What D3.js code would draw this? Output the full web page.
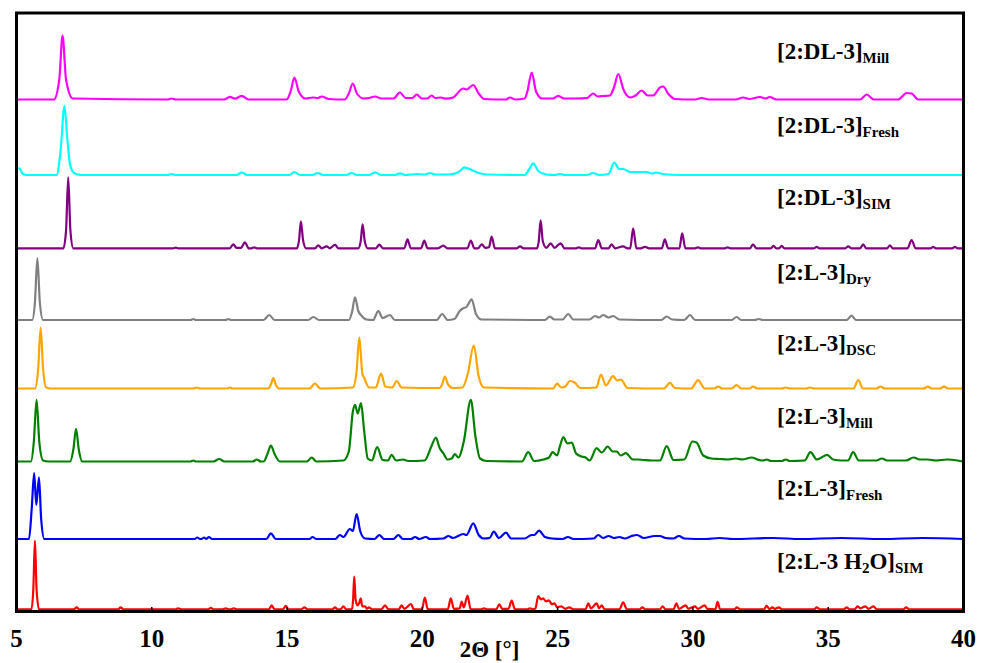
<!DOCTYPE html>
<html><head><meta charset="utf-8">
<script src="https://cdn.jsdelivr.net/npm/d3@7"></script>
<style>
html,body{margin:0;padding:0;background:#fff;}
svg{display:block;}
text{font-family:"Liberation Serif","Times New Roman",serif;font-weight:bold;fill:#000;}
</style></head>
<body><svg id="c" width="981" height="663"></svg>
<script>
// ---- data (2Θ, intensity above each trace's baseline) ----
const millDL = [[5,0],[6.4,0],[6.6,20],[6.72,64],[6.85,20],[7.1,1],[10.6,0],[10.75,1],[10.9,0],[12.7,0],[12.9,2.7],[13.1,0.8],[13.34,3.7],[13.6,0],[15.0,0],[15.15,8],[15.29,22],[15.45,8],[15.7,1],[15.98,2],[16.15,1.5],[16.3,3],[16.55,0.5],[17.15,0],[17.3,6],[17.45,16],[17.6,6],[17.85,1],[18.05,1.5],[18.27,3],[18.5,1],[18.95,1],[19.19,7],[19.4,1.5],[19.65,1.5],[19.81,5],[20.0,1],[20.2,1],[20.36,4],[20.5,1.5],[20.7,2],[20.9,0.8],[21.15,2],[21.53,11],[21.65,10],[21.9,14.5],[22.1,6],[22.3,0.5],[23.1,0],[23.26,2],[23.45,0],[23.8,1],[23.9,8],[24.06,27],[24.22,8],[24.45,1],[24.85,1],[25.04,3.7],[25.25,1],[25.7,1],[26.1,1.5],[26.33,6],[26.5,3],[26.7,3.5],[26.95,4],[27.1,12],[27.26,25.5],[27.45,10],[27.7,2],[27.9,4],[28.12,9],[28.35,4],[28.55,4],[28.8,12],[28.92,13],[29.1,6],[29.35,0.5],[30.1,0],[30.34,1.5],[30.6,0],[31.6,0],[31.87,2],[32.1,0.5],[32.5,2.5],[32.7,1],[32.86,2.5],[33.1,0],[36.2,0],[36.44,5],[36.7,0],[37.6,0],[37.92,6.5],[38.1,6],[38.35,0],[40,0]];
const freshDL = [[5.08,7],[5.15,6],[5.25,1],[5.4,0],[6.5,0],[6.65,25],[6.79,69],[6.9,35],[7.0,10],[7.15,2],[7.4,0],[10.6,0],[10.75,1],[10.9,0],[13.15,0],[13.34,2.5],[13.55,0],[15.1,0],[15.29,3],[15.5,0],[15.95,0],[16.15,2],[16.35,0],[17.2,0],[17.4,2],[17.6,0],[18.05,0],[18.27,2.7],[18.5,0],[19.0,0],[19.19,1.7],[19.4,0],[19.8,1],[20.1,0.5],[20.3,2],[20.5,0.5],[21.0,0.5],[21.28,2],[21.45,5],[21.56,7.7],[21.84,5],[22.1,2],[22.4,0.5],[23.8,0],[23.95,5],[24.12,11.7],[24.3,4],[24.6,0.5],[24.9,0],[25.1,1],[25.3,0],[26.1,0],[26.33,2],[26.55,0],[26.9,1],[27.11,12.3],[27.3,6],[27.44,6],[27.7,3],[28.0,3],[28.3,3],[28.5,1.5],[28.67,2.5],[28.9,1],[29.5,0],[40,0]];
const simDL = [[5,0],[6.75,0],[6.85,18],[6.93,71],[7.01,18],[7.12,0],[10.8,0],[10.9,0.7],[11.0,0],[12.9,0],[13.03,4],[13.15,0.5],[13.32,0.5],[13.46,6],[13.6,0],[13.7,0],[13.8,1],[13.9,0],[15.38,0],[15.46,8],[15.53,27],[15.61,8],[15.72,0],[16.05,0],[16.17,3],[16.3,0],[16.48,2],[16.6,0],[16.79,3.5],[16.92,0],[17.65,0],[17.74,7],[17.81,24],[17.89,7],[18.0,0],[18.3,0],[18.43,3.7],[18.56,0],[19.35,0],[19.47,9],[19.59,0],[19.97,0],[20.09,7.7],[20.21,0],[20.6,0],[20.79,2.7],[20.95,0],[21.68,0],[21.81,7.7],[21.94,0],[22.08,0],[22.21,4],[22.35,0.5],[22.48,1],[22.58,11.7],[22.7,0],[23.5,0],[23.63,2],[23.76,0],[24.25,0],[24.32,7],[24.39,28],[24.47,7],[24.6,0.5],[24.76,5],[24.9,0.5],[25.13,5],[25.27,0],[25.7,0],[25.8,1],[25.9,0],[26.4,0],[26.52,8.3],[26.65,0],[26.9,0],[27.01,4],[27.15,0],[27.44,2],[27.6,0],[27.7,0],[27.81,20],[27.93,0],[28.1,0],[28.24,1.5],[28.4,0],[28.87,0],[28.98,9],[29.1,0],[29.52,0],[29.62,15],[29.74,0],[30.1,0],[30.2,1],[30.3,0],[31.2,0],[31.3,1],[31.4,0],[32.13,0],[32.24,4],[32.36,0],[32.9,0],[32.99,2.5],[33.1,0],[33.2,0],[33.3,2.5],[33.4,0],[34.5,0],[34.59,1.5],[34.7,0],[35.65,0],[35.76,2],[35.87,0],[36.2,0],[36.31,4],[36.42,0],[37.2,0],[37.3,3],[37.4,0],[37.95,0],[38.1,8.3],[38.25,0],[38.8,0],[38.9,1.5],[39.0,0],[39.6,0],[39.7,1.5],[39.8,0],[40,0]];
const dryL = [[5,0],[5.6,0],[5.7,18],[5.79,62],[5.88,18],[6.0,0],[11.45,0],[11.55,1],[11.65,0],[12.75,0],[12.85,1],[12.95,0],[14.15,0],[14.36,5],[14.55,0],[15.8,0],[15.99,3],[16.2,0],[17.3,0],[17.42,8],[17.53,22.7],[17.65,9],[17.75,5],[17.95,0.5],[18.2,0],[18.39,9],[18.55,2],[18.82,5],[19.0,0],[20.55,0],[20.75,6],[20.95,0],[21.2,1],[21.4,9],[21.53,11.7],[21.65,13],[21.84,20.7],[22.0,6],[22.2,0.5],[24.55,0],[24.73,3.3],[24.9,0.5],[25.2,0.5],[25.41,6],[25.6,0.5],[26.2,0.5],[26.4,4],[26.55,2.5],[26.7,5],[26.9,2.5],[27.07,4],[27.3,0.5],[28.85,0],[29.05,3.5],[29.25,0.5],[29.7,0],[29.91,5],[30.1,0],[31.45,0],[31.63,3],[31.8,0],[32.3,0],[32.45,1],[32.6,0],[35.7,0],[35.88,4.3],[36.05,0],[40,0]];
const dscL = [[5,0],[5.7,0],[5.82,20],[5.91,61],[6.0,20],[6.12,1],[6.3,0],[11.55,0],[11.68,1],[11.8,0],[12.8,0],[12.9,1],[13.0,0],[14.33,0],[14.42,4],[14.51,10.3],[14.6,4],[14.72,0],[15.85,0],[16.05,5],[16.25,0],[17.45,1],[17.58,15],[17.69,51],[17.8,15],[17.88,10],[18.05,1],[18.3,1],[18.49,15],[18.65,2],[18.9,1],[19.07,7.5],[19.25,1],[20.65,0.5],[20.75,4],[20.85,12],[20.97,4],[21.15,0.5],[21.5,1],[21.7,15],[21.92,43],[22.1,12],[22.3,1],[24.85,0],[25.0,5],[25.15,1],[25.3,2],[25.47,7.5],[25.65,6],[25.85,0.5],[26.45,1],[26.62,14],[26.8,3],[27.07,12.3],[27.22,8],[27.36,9],[27.6,0.5],[28.95,0],[29.17,5.7],[29.35,0.5],[29.95,0],[30.21,8.3],[30.45,0],[30.8,0],[30.95,2],[31.1,0],[31.45,0],[31.63,3.3],[31.8,0],[32.1,0],[32.24,2],[32.4,0],[33.3,0],[33.45,1],[33.6,0],[34.2,0],[34.35,1],[34.5,0],[35.95,0],[36.13,8.3],[36.3,0],[36.8,0],[36.95,2],[37.1,0],[38.55,0],[38.7,2],[38.85,0],[39.15,0],[39.3,2],[39.45,0],[40,0]];
const millL = [[5,0],[5.55,0],[5.66,20],[5.76,61.7],[5.86,20],[6.0,1],[6.2,0],[7.0,0],[7.12,12],[7.22,32.7],[7.32,12],[7.45,0],[11.45,0],[11.55,1],[11.65,0],[12.3,0],[12.51,2.5],[12.7,0],[13.75,0],[13.9,2],[14.05,0],[14.15,0],[14.3,8],[14.42,16],[14.55,8],[14.75,0],[15.75,0],[15.93,4],[16.1,0],[17.1,1],[17.3,10],[17.45,50],[17.53,56.7],[17.63,48],[17.75,58.3],[17.87,30],[18.0,3],[18.15,1],[18.35,14.3],[18.55,1.5],[18.75,1],[18.88,6.7],[19.05,1],[19.3,2],[19.5,0.5],[20.1,1],[20.35,15],[20.52,24],[20.65,14],[20.8,8],[20.95,2],[21.1,3],[21.22,7.3],[21.35,4],[21.55,20],[21.81,61.7],[21.98,25],[22.15,3],[22.4,0.5],[23.7,0],[23.93,9.3],[24.15,0.5],[24.5,2],[24.7,4],[24.83,9.3],[25.0,6],[25.1,15],[25.23,24.3],[25.38,18],[25.54,19],[25.7,8],[25.9,5],[26.05,4],[26.2,1],[26.46,13.3],[26.65,9],[26.87,15],[27.05,10],[27.2,10],[27.35,6],[27.54,8.3],[27.8,2],[28.0,2],[28.2,1.5],[28.5,1],[28.8,1],[29.05,15.3],[29.3,1.5],[29.7,2],[30.0,20],[30.15,19],[30.4,6],[30.7,3],[31.0,2.5],[31.3,2],[31.6,3],[31.85,2],[32.19,4],[32.4,2],[32.6,1],[32.75,2],[32.9,0.5],[33.3,0.5],[33.45,2],[33.6,0.5],[34.15,1],[34.36,9.3],[34.6,2],[34.98,6.7],[35.2,2],[35.5,1],[35.75,1],[35.94,9.3],[36.15,1],[36.8,1],[37.0,3],[37.2,1],[37.9,1],[38.17,4],[38.4,2],[38.7,2],[39.0,1],[39.4,2],[39.8,1],[40,0]];
const freshL = [[5,0],[5.48,0],[5.58,30],[5.67,66],[5.75,34],[5.85,61.7],[5.93,20],[6.05,0],[11.6,0],[11.7,1.5],[11.8,0],[11.85,0],[11.95,1.5],[12.03,0],[12.13,2],[12.25,0],[14.25,0],[14.42,5.7],[14.6,0],[15.85,0],[15.96,2],[16.1,0],[16.8,0],[16.97,4],[17.1,2],[17.34,10],[17.45,8],[17.59,25],[17.72,8],[17.9,0.5],[18.25,0],[18.43,4],[18.6,0],[18.95,0],[19.13,4],[19.3,0],[19.6,0],[19.75,2],[19.9,0],[20.15,2],[20.3,0],[20.8,0.5],[20.98,3],[21.15,1],[21.53,5],[21.65,4],[21.9,15.7],[22.1,4],[22.3,0.5],[22.5,1],[22.66,7.3],[22.85,1],[23.11,6.3],[23.3,0.5],[23.8,0.5],[24.05,4],[24.15,4],[24.33,8.3],[24.55,2],[24.8,0.5],[25.2,0],[25.4,2],[25.6,0],[26.35,0.5],[26.52,4],[26.7,1],[26.9,3],[27.1,1],[27.3,2],[27.5,0.5],[27.75,3],[27.95,4],[28.2,1],[28.6,3],[28.8,3],[29.0,1],[29.3,0.5],[29.5,3],[29.7,0.5],[30.5,0],[31.0,1],[31.5,0],[33.0,1],[34.0,0],[35.5,1],[37.0,0],[38.5,1],[40,0]];
const h2oSIM = [[5,0],[5.57,0],[5.64,20],[5.7,68.7],[5.76,20],[5.85,0],[7.15,0],[7.24,2],[7.33,0],[8.78,0],[8.87,2],[8.96,0],[10.9,0],[11.0,1],[11.1,0],[12.1,0],[12.2,1.5],[12.3,0],[12.65,0],[12.75,1],[12.85,0],[12.95,0],[13.05,1],[13.15,0],[14.35,0],[14.45,4],[14.55,0],[14.87,0],[14.97,3.5],[15.07,0],[15.55,0],[15.66,2],[15.77,0],[16.7,0],[16.79,2],[16.88,0],[17.0,0],[17.1,3],[17.2,0],[17.42,0],[17.46,10],[17.5,32.7],[17.55,10],[17.62,4],[17.68,6],[17.74,11],[17.8,3],[17.9,3],[17.97,0.5],[18.05,2],[18.15,0],[18.5,0],[18.64,4],[18.76,0],[19.15,0],[19.25,4],[19.35,0.5],[19.6,5.3],[19.7,0],[20.0,0],[20.11,11.7],[20.22,0],[20.96,0],[21.07,11],[21.18,0.5],[21.4,1],[21.47,7.7],[21.55,2],[21.69,13.7],[21.8,0],[22.2,0],[22.3,1],[22.4,0],[22.75,0],[22.86,5],[22.97,0.5],[23.2,0.5],[23.32,8.7],[23.44,0],[23.9,0],[24.0,1],[24.1,0],[24.2,1],[24.3,13.3],[24.4,10],[24.48,11],[24.58,8],[24.7,9],[24.8,5],[24.9,6],[25.0,2],[25.15,3],[25.3,0.5],[25.45,2],[25.6,0],[26.05,0],[26.15,6],[26.25,1],[26.46,6],[26.55,1],[26.65,4],[26.75,0],[27.3,0],[27.44,7],[27.58,0],[28.05,0],[28.15,2],[28.25,0],[28.8,0],[28.9,3],[29.0,0],[29.3,0],[29.41,6],[29.5,0.5],[29.75,4],[29.85,0.5],[30.1,3],[30.2,0.5],[30.45,4],[30.55,0.5],[30.85,0],[30.93,7.5],[31.02,0],[31.55,0],[31.65,2],[31.75,0],[32.65,0],[32.74,3.5],[32.85,0],[32.95,2],[33.05,0.5],[33.2,2],[33.3,0],[34.5,0],[34.6,2],[34.7,0],[35.6,0],[35.7,2],[35.8,0],[36.0,0],[36.1,3],[36.2,1],[36.4,3],[36.5,0.5],[36.7,3],[36.8,0],[37.8,0],[37.9,2],[38.0,0],[40,0]];

const seriesData = [millDL, freshDL, simDL, dryL, dscL, millL, freshL, h2oSIM];
const seriesOffsets = [511.5, 436, 362.7, 291, 222.5, 149.5, 72, 1.7];
const seriesColors = ["#ff00ff", "#00ffff", "#800080", "#808080", "#ffa500", "#008000", "#0000ff", "#ff0000"];
const labelMain = [["[2:DL-3]"], ["[2:DL-3]"], ["[2:DL-3]"], ["[2:L-3]"], ["[2:L-3]"], ["[2:L-3]"], ["[2:L-3]"], ["[2:L-3 H", "O]"]];
const labelSub  = [["Mill"], ["Fresh"], ["SIM"], ["Dry"], ["DSC"], ["Mill"], ["Fresh"], ["2", "SIM"]];
const labelBaseline = [59, 133, 205, 280, 351, 424, 496, 569];
const xTicks = [5, 10, 15, 20, 25, 30, 35, 40];
const xTitle = "2\u0398 [\u00b0]";

// ---- chart ----
const svg = d3.select("#c");
const L = 16, R = 963, T = 12, B = 611;
const x = d3.scaleLinear().domain([5, 40]).range([L, R]);
const y = d3.scaleLinear().domain([0, 599]).range([B, T]);

const line = d3.line().curve(d3.curveMonotoneX);

const g = svg.append("g");
seriesData.forEach((s, i) => {
  g.append("path")
    .attr("d", line.x(d => x(d[0])).y(d => y(d[1] + seriesOffsets[i]))(s))
    .attr("fill", "none")
    .attr("stroke", seriesColors[i])
    .attr("stroke-width", 2.2)
    .attr("stroke-linejoin", "round");
});

// frame
svg.append("rect").attr("x", L + 0.5).attr("y", T + 1).attr("width", R - L).attr("height", B - T - 0.5)
  .attr("fill", "none").attr("stroke", "#000").attr("stroke-width", 3);

// x axis
const ax = svg.append("g").attr("transform", `translate(0,${B})`)
  .call(d3.axisBottom(x).tickValues(xTicks).tickFormat(d3.format("d")).tickSizeInner(-4).tickSizeOuter(0));
ax.select(".domain").remove();
ax.selectAll(".tick line").attr("stroke", "#000").attr("stroke-width", 1.5);
ax.selectAll(".tick text").attr("y", 36).attr("dy", null)
  .style("font-family", "'Liberation Serif','Times New Roman',serif")
  .style("font-weight", "bold").style("font-size", "25px").attr("fill", "#000");

svg.append("text").attr("x", (L + R) / 2).attr("y", 657).attr("text-anchor", "middle")
  .style("font-size", "23px").text(xTitle);

// labels
labelMain.forEach((parts, i) => {
  const t = svg.append("text").attr("x", 777).attr("y", labelBaseline[i]).style("font-size", "23px");
  parts.forEach((p, j) => {
    t.append("tspan").attr("dy", j === 0 ? 0 : -4).style("font-size", "23px").text(p);
    t.append("tspan").attr("dy", 4).style("font-size", "15px").text(labelSub[i][j]);
  });
});
</script></body></html>
